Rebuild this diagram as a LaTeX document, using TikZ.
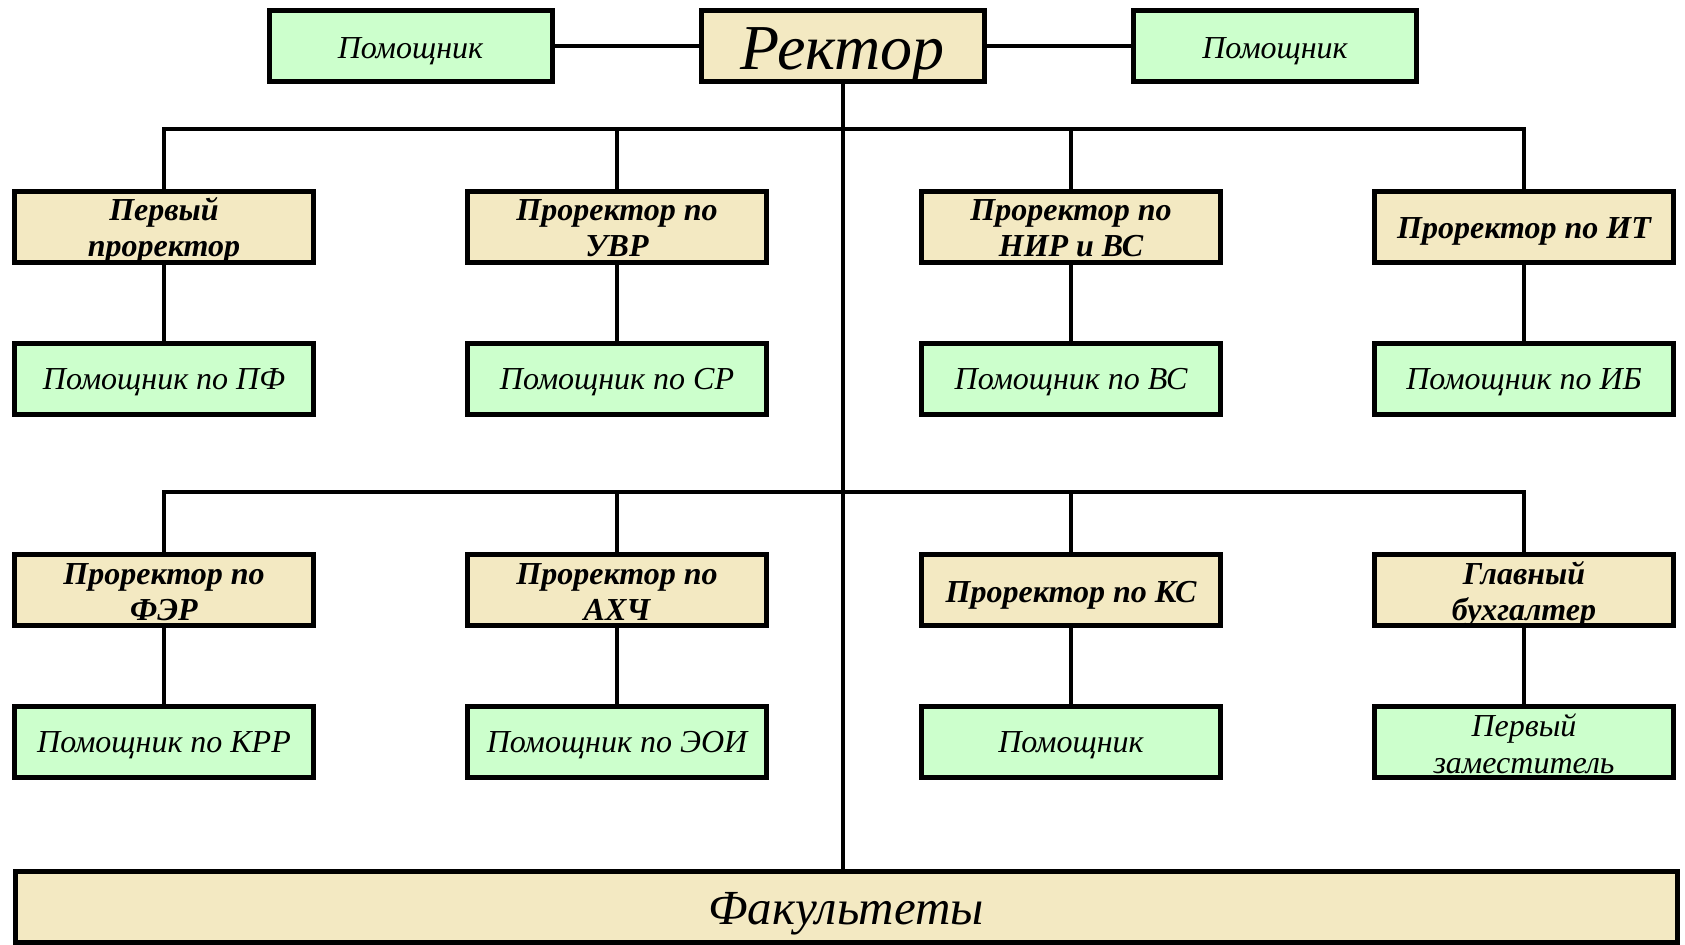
\documentclass[tikz,border=0pt]{standalone}
\usepackage{fontspec}
\setmainfont{Liberation Serif}
\definecolor{chieffill}{RGB}{243,233,194}
\definecolor{aidefill}{RGB}{204,255,204}
\newcommand\twoline[3][-0.6pt]{\raisebox{#1}[0pt][0pt]{\begin{tabular}{@{}c@{}}#2\\#3\end{tabular}}}
\begin{document}
\begin{tikzpicture}[x=0.5pt,y=-0.5pt,
    boss/.style={draw,line width=2.5pt,fill=chieffill,minimum width=149.5pt,minimum height=35.5pt,
      inner sep=0pt,text height=15pt,text depth=3pt,
      font=\bfseries\itshape\fontsize{16}{18}\selectfont},
    aide/.style={draw,line width=2.5pt,fill=aidefill,minimum width=149.5pt,minimum height=35.5pt,
      inner sep=0pt,text height=15pt,text depth=4pt,
      font=\itshape\fontsize{16}{18.25}\selectfont},
    link/.style={line width=2pt}]
    \useasboundingbox (0,0) rectangle (1685,945);

    % top row
    \node[boss,minimum width=141.5pt,text height=26pt,text depth=2pt,
      font=\itshape\fontsize{32}{32}\selectfont] (rector) at (842.5,46) {Ректор};
    \node[aide,minimum width=141.5pt,text height=15pt,text depth=2pt] (aidel) at (410.5,46) {Помощник};
    \node[aide,minimum width=141.5pt,text height=15pt,text depth=2pt] (aider) at (1275,46) {Помощник};
    \draw[link] (aidel) -- (rector);
    \draw[link] (rector) -- (aider);

    \coordinate (bus1) at (842.5,129);
    \coordinate (bus2) at (842.5,492);

    % first group
    \node[boss] (pr1) at (164,227) {\twoline{Первый}{проректор}};
    \node[boss] (pr2) at (617,227) {\twoline{Проректор по}{УВР}};
    \node[boss] (pr3) at (1071,227) {\twoline{Проректор по}{НИР и ВС}};
    \node[boss] (pr4) at (1524,227) {Проректор по ИТ};
    \node[aide] (as1) at (164,379) {Помощник по ПФ};
    \node[aide] (as2) at (617,379) {Помощник по СР};
    \node[aide] (as3) at (1071,379) {Помощник по ВС};
    \node[aide] (as4) at (1524,379) {Помощник по ИБ};

    % second group
    \node[boss] (pr5) at (164,590.5) {\twoline{Проректор по}{ФЭР}};
    \node[boss] (pr6) at (617,590.5) {\twoline{Проректор по}{АХЧ}};
    \node[boss] (pr7) at (1071,590.5) {Проректор по КС};
    \node[boss] (pr8) at (1524,590.5) {\twoline{Главный}{бухгалтер}};
    \node[aide] (as5) at (164,741.5) {Помощник по КРР};
    \node[aide] (as6) at (617,741.5) {Помощник по ЭОИ};
    \node[aide] (as7) at (1071,741.5) {Помощник};
    \node[aide] (as8) at (1524,741.5) {\twoline[-1.8pt]{Первый}{заместитель}};

    \node[boss,minimum width=831pt,text height=19.5pt,text depth=2pt,
      font=\itshape\fontsize{24.5}{24.5}\selectfont] (fac) at (846,907) {Факультеты};

    % connectors
    \draw[link] (rector.south) -- (rector.south |- fac.north);
    \draw[link] (pr1.north) |- (pr4.north |- bus1) -- (pr4.north);
    \draw[link] (pr2.north) -- (pr2.north |- bus1);
    \draw[link] (pr3.north) -- (pr3.north |- bus1);
    \draw[link] (pr5.north) |- (pr8.north |- bus2) -- (pr8.north);
    \draw[link] (pr6.north) -- (pr6.north |- bus2);
    \draw[link] (pr7.north) -- (pr7.north |- bus2);
    \draw[link] (pr1) -- (as1);
    \draw[link] (pr2) -- (as2);
    \draw[link] (pr3) -- (as3);
    \draw[link] (pr4) -- (as4);
    \draw[link] (pr5) -- (as5);
    \draw[link] (pr6) -- (as6);
    \draw[link] (pr7) -- (as7);
    \draw[link] (pr8) -- (as8);
\end{tikzpicture}
\end{document}
